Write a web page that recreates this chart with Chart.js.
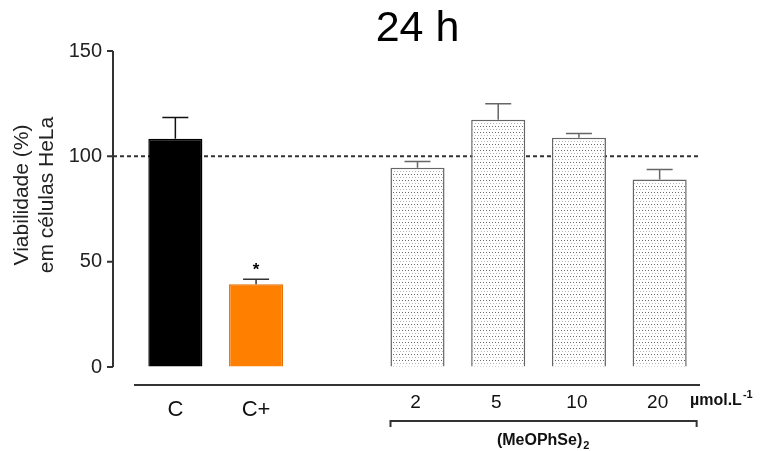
<!DOCTYPE html>
<html>
<head>
<meta charset="utf-8">
<script src="https://cdn.jsdelivr.net/npm/chart.js@4.4.0/dist/chart.umd.min.js"></script>
<style>
  html, body { margin: 0; padding: 0; background: #fff; }
</style>
</head>
<body>
<canvas id="chart" width="761" height="451"></canvas>
<script>
// data
const groups = ['C', 'C+', '', '2', '5', '10', '20'];
const viability = [108.4, 39.3, null, 94.6, 117.4, 108.8, 89.0];
const errors = [10.0, 2.3, null, 3.0, 7.6, 2.0, 4.7];
const yTicks = [0, 50, 100, 150];
const refLine = 100;
const starred = [1];

const FONT = '"Liberation Sans", Arial, Helvetica, sans-serif';

// dotted fill like the printed figure
function dotPattern() {
    const c = document.createElement('canvas');
    c.width = 6; c.height = 6;
    const g = c.getContext('2d');
    g.fillStyle = '#fff';
    g.fillRect(0, 0, 6, 6);
    g.fillStyle = '#6a6a6a';
    g.fillRect(0, 0, 1, 1);
    g.fillRect(3, 0, 1, 1);
    g.fillStyle = '#b5b5b5';
    g.fillRect(1, 3, 1, 1);
    g.fillRect(4, 3, 1, 1);
    return g.createPattern(c, 'repeat');
}
const dots = dotPattern();

const fills = groups.map((g, i) => i === 0 ? '#000' : i === 1 ? '#ff7f00' : dots);
const borders = groups.map((g, i) => i === 0 ? '#000' : i === 1 ? '#e87000' : '#666');
const errColors = groups.map((g, i) => i === 0 ? '#111' : i === 1 ? '#333' : '#666');

const decor = {
    id: 'decor',
    beforeDatasetsDraw(chart) {
        const {ctx, scales: {y}} = chart;
        const yy = y.getPixelForValue(refLine);
        ctx.save();
        ctx.strokeStyle = '#333';
        ctx.lineWidth = 2;
        ctx.setLineDash([4, 3]);
        ctx.beginPath();
        ctx.moveTo(chart.chartArea.left - 22, yy);
        ctx.lineTo(chart.chartArea.right, yy);
        ctx.stroke();
        ctx.restore();
    },
    afterDatasetsDraw(chart) {
        const {ctx, scales: {y}} = chart;
        const meta = chart.getDatasetMeta(0);
        ctx.save();
        meta.data.forEach((bar, i) => {
            if (viability[i] == null) return;
            const top = y.getPixelForValue(viability[i]);
            const end = y.getPixelForValue(viability[i] + errors[i]);
            ctx.strokeStyle = errColors[i];
            ctx.lineWidth = 1.5;
            ctx.beginPath();
            ctx.moveTo(bar.x, top);
            ctx.lineTo(bar.x, end);
            ctx.moveTo(bar.x - 13, end);
            ctx.lineTo(bar.x + 13, end);
            ctx.stroke();
            if (starred.includes(i)) {
                ctx.fillStyle = '#000';
                ctx.font = 'bold 17px ' + FONT;
                ctx.textAlign = 'center';
                ctx.textBaseline = 'middle';
                ctx.fillText('*', bar.x, end - 9);
            }
        });
        ctx.restore();
    },
    afterDraw(chart) {
        const {ctx, chartArea, scales: {x, y}} = chart;
        const axisX = chartArea.left - 22;
        ctx.save();
        ctx.strokeStyle = '#333';
        ctx.lineWidth = 2;
        // y axis with ticks
        ctx.beginPath();
        ctx.moveTo(axisX, y.getPixelForValue(yTicks[yTicks.length - 1]));
        ctx.lineTo(axisX, y.getPixelForValue(0));
        yTicks.forEach(v => {
            const p = y.getPixelForValue(v);
            ctx.moveTo(axisX - 6, p);
            ctx.lineTo(axisX, p);
        });
        ctx.stroke();
        // detached x axis line
        const baseY = chartArea.bottom + 18;
        ctx.beginPath();
        ctx.moveTo(chartArea.left - 1, baseY);
        ctx.lineTo(chartArea.right, baseY);
        ctx.stroke();

        // category labels
        ctx.fillStyle = '#111';
        ctx.textAlign = 'center';
        ctx.textBaseline = 'middle';
        groups.forEach((g, i) => {
            if (!g) return;
            const px = x.getPixelForValue(i);
            if (i < 2) {
                ctx.font = '22px ' + FONT;
                ctx.fillText(g, px, baseY + 25);
            } else {
                ctx.font = '19px ' + FONT;
                ctx.fillText(g, px - 2, baseY + 18);
            }
        });
        // unit
        ctx.textAlign = 'left';
        ctx.font = 'bold 16px ' + FONT;
        const ux = chartArea.right - 10;
        ctx.fillText('µmol.L', ux, baseY + 16);
        const uw = ctx.measureText('µmol.L').width;
        ctx.font = 'bold 11px ' + FONT;
        ctx.fillText('-1', ux + uw + 1, baseY + 10);

        // bracket under the compound doses
        const bl = x.getPixelForValue(3) - 27;
        const br = x.getPixelForValue(6) + 37;
        const by = baseY + 36;
        ctx.lineWidth = 2;
        ctx.beginPath();
        ctx.moveTo(bl, by + 6);
        ctx.lineTo(bl, by);
        ctx.lineTo(br, by);
        ctx.lineTo(br, by + 6);
        ctx.stroke();
        const name = '(MeOPhSe)';
        ctx.font = 'bold 16px ' + FONT;
        const nw = ctx.measureText(name).width;
        const cx = (bl + br) / 2 - 4;
        ctx.fillText(name, cx - nw / 2, by + 20);
        ctx.font = 'bold 11px ' + FONT;
        ctx.fillText('2', cx + nw / 2 + 1, by + 25);

        // y axis title, two lines
        ctx.translate(0, 195);
        ctx.rotate(-Math.PI / 2);
        ctx.textAlign = 'center';
        ctx.font = '21px ' + FONT;
        ctx.fillStyle = '#222';
        ctx.fillText('Viabilidade (%)', 0, 22);
        ctx.fillText('em células HeLa', 0, 47);
        ctx.restore();
    }
};

new Chart(document.getElementById('chart'), {
    type: 'bar',
    data: {
        labels: groups,
        datasets: [{
            data: viability,
            backgroundColor: fills,
            borderColor: borders,
            borderWidth: 1.5,
            barPercentage: 0.67,
            categoryPercentage: 1.0
        }]
    },
    options: {
        responsive: false,
        animation: false,
        layout: { padding: { left: 0, right: 61, top: 0, bottom: 84 } },
        plugins: {
            legend: { display: false },
            tooltip: { enabled: false },
            title: {
                display: true,
                text: '24 h',
                fullSize: false,
                color: '#000',
                font: { size: 43, family: FONT, weight: 'normal', lineHeight: 1 },
                padding: { top: 8, bottom: 0 }
            }
        },
        scales: {
            x: { display: false },
            y: {
                min: 0,
                max: 150,
                afterFit(s) { s.width = 135; },
                afterBuildTicks(s) { s.ticks = yTicks.map(v => ({ value: v })); },
                border: { display: false },
                grid: { drawOnChartArea: false, drawTicks: false },
                ticks: { color: '#222', padding: 33, font: { size: 20, family: FONT } }
            }
        }
    },
    plugins: [decor]
});
</script>
</body>
</html>
